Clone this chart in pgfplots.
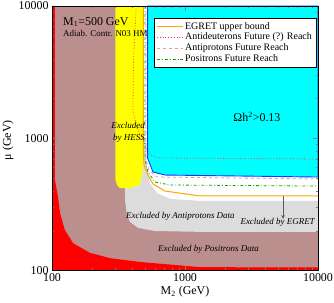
\documentclass[border=0pt]{standalone}
\usepackage{fontspec}
\setmainfont{Liberation Serif}
\usepackage{pgfplots}
\pgfplotsset{compat=1.18}
\definecolor{rosyb}{RGB}{188,143,143}
\definecolor{lgray}{RGB}{220,220,220}
\definecolor{mycyan}{RGB}{0,255,255}
\definecolor{myyellow}{RGB}{255,255,0}
\definecolor{myred}{RGB}{255,0,0}
\definecolor{myblue}{RGB}{30,50,255}
\definecolor{egret}{RGB}{255,165,0}
\definecolor{dbar}{RGB}{255,60,60}
\definecolor{pbar}{RGB}{215,160,180}
\definecolor{posi}{RGB}{0,170,0}
\definecolor{arrowgray}{RGB}{90,90,90}
\begin{document}
\begin{tikzpicture}
\begin{axis}[
  at={(0,0)}, anchor=south west,
  scale only axis, width=266bp, height=264.5bp,
  xmode=log, ymode=log,
  xmin=100, xmax=10000, ymin=100, ymax=10000,
  xtick={100,1000,10000}, ytick={100,1000,10000},
  minor xtick={200,300,400,500,600,700,800,900,2000,3000,4000,5000,6000,7000,8000,9000},
  minor ytick={200,300,400,500,600,700,800,900,2000,3000,4000,5000,6000,7000,8000,9000},
  xticklabels={\mbox{100},\mbox{1000},\mbox{10000}},
  yticklabels={\mbox{100},\mbox{1000},\mbox{10000}},
  tick align=inside,
  major tick length=5bp, minor tick length=2.5bp,
  tick label style={font=\fontsize{12}{14}\selectfont},
  every axis x label/.style={at={(axis description cs:0.5,-0.081)}, anchor=center},
  every axis y label/.style={at={(axis description cs:-0.165,0.493)}, rotate=90, anchor=center},
  xlabel={M\textsubscript{2} (GeV)},
  ylabel={μ (GeV)},
  label style={font=\fontsize{12}{14}\selectfont},
  axis on top,
  axis background/.style={fill=rosyb},
  legend style={at={(0.9925,0.9546)}, anchor=north east, draw=black, fill=white,
    font=\fontsize{10}{12}\selectfont, row sep=-1.5pt, inner sep=2pt},
  legend cell align=left,
  legend image code/.code={\draw[#1] (0cm,0cm) -- (0.9cm,0cm);},
]
% white region right of HESS
\addplot[fill=white, draw=none, forget plot] coordinates {(483,10000) (10000,10000) (10000,336) (483,336)} -- cycle;
% red region
\addplot[fill=myred, draw=none, forget plot] coordinates {
 (100,100) (100,10000) (105.3,10000) (105.3,483) (111,359) (115,272) (125,202)
 (144,161) (193,136) (273,124) (459,116) (1297,106) (10000,105.4) (10000,100)} -- cycle;
% gray (antiprotons)
\addplot[fill=lgray, draw=none, forget plot] coordinates {
 (10000,336) (1297,336) (771,348) (615,385) (545,459) (518,575) (509,970)
 (330,970) (354,406) (354,341) (366,263) (386,233) (443,210) (594,199) (1297,196) (10000,196)} -- cycle;
% yellow (HESS)
\addplot[fill=myyellow, draw=none, forget plot] coordinates {
 (300,10000) (300,483) (310,440) (324,420) (386,420) (459,445) (483,575) (483,10000)} -- cycle;
% cyan (relic density)
\addplot[fill=mycyan, draw=myblue, line width=0.9pt, forget plot] coordinates {
 (523,10000) (523,709) (574,556) (708,527) (10000,509) (10000,10000)} -- cycle;
% arrow EGRET
\addplot[arrowgray, line width=0.8pt, -stealth, forget plot] coordinates {(5458,366) (5458,245)};
% lines
\addplot[egret, line width=1pt] coordinates {
 (487,10000) (487,800) (492,628) (527,527) (574,451) (708,399) (1297,366) (10000,366)};
\addlegendentry{EGRET upper bound}
\addplot[dbar, line width=0.8pt, dotted] coordinates {
 (430,10000) (410,3908) (406,1637) (436,1195) (483,970) (509,844) (565,734) (649,709) (10000,697)};
\addlegendentry{Antideuterons Future (?) Reach}
\addplot[pbar, line width=0.8pt, dashed] coordinates {
 (509,10000) (509,685) (536,575) (615,509) (10000,492)};
\addlegendentry{Antiprotons Future Reach}
\addplot[posi, line width=0.8pt, dash dot] coordinates {
 (500,10000) (500,685) (527,556) (594,467) (771,443) (10000,435)};
\addlegendentry{Positrons Future Reach}
% texts
\node[anchor=west, font=\fontsize{12}{14}\selectfont, inner sep=0pt] at (axis cs:121,7568) {M\textsubscript{1}=500 GeV};
\node[anchor=west, font=\fontsize{9}{10}\selectfont, inner sep=0pt] at (axis cs:121,6250) {Adiab. Contr. N03 HM};
\node[anchor=east, font=\fontsize{9}{10}\selectfont\itshape, inner sep=0pt] at (axis cs:500,1239) {Excluded};
\node[anchor=east, font=\fontsize{9}{10}\selectfont\itshape, inner sep=0pt] at (axis cs:500,1005) {by HESS};
\node[anchor=center, font=\fontsize{12}{14}\selectfont, inner sep=0pt] at (axis cs:3475,1449) {Ωh\textsuperscript{2}>0.13};
\node[anchor=west, font=\fontsize{9}{10}\selectfont\itshape, inner sep=0pt] at (axis cs:360,258) {Excluded by Antiprotons Data};
\node[anchor=east, font=\fontsize{9}{10}\selectfont\itshape, inner sep=0pt] at (axis cs:9483,233) {Excluded by EGRET};
\node[anchor=east, font=\fontsize{9}{10}\selectfont\itshape, inner sep=0pt] at (axis cs:3597,145) {Excluded by Positrons Data};
\end{axis}
\pgfresetboundingbox
\path[use as bounding box] (-52bp,-32.5bp) rectangle (282bp,270.5bp);
\end{tikzpicture}
\end{document}
